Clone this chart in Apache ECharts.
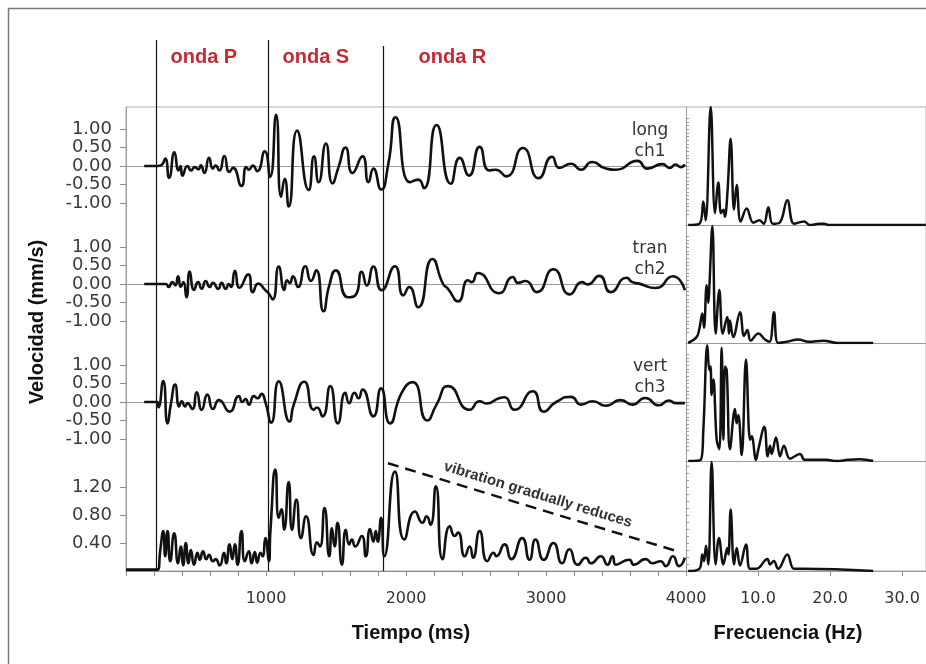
<!DOCTYPE html>
<html><head><meta charset="utf-8">
<script src="https://cdn.jsdelivr.net/npm/echarts@6/dist/echarts.min.js"></script>
<style>html,body{margin:0;padding:0;background:#fff}#c{width:926px;height:664px}</style>
</head><body><div id="c"></div>
<script>
// ---------- DATA ----------
const channelNames = [['long','ch1'],['tran','ch2'],['vert','ch3']];
const waveNames = ['onda P','onda S','onda R'];
const onsets = [214, 1014, 1836];           // ms
const timeTicks = [1000, 2000, 3000, 4000];
const freqTicks = [10, 20, 30];
const velTicks = [-1, -0.5, 0, 0.5, 1];
const magTicks = [0.4, 0.8, 1.2];
const trendLine = [[1871, 1.54], [3957, 0.27]];
const trendText = 'vibration gradually reduces';

const ch1 = [[130,0],[225,0],[255,0.03],[280,0.2],[308,-0.32],[346,0.37],[375,-0.12],[389,0],[403,-0.26],[439,0],[465,-0.12],[491,-0.03],[517,-0.09],[534,0.02],[560,-0.19],[593,0.22],[621,-0.07],[640,0.01],[667,-0.12],[702,0.27],[738,-0.16],[764,-0.05],[825,-0.54],[859,-0.03],[878,-0.1],[906,0.01],[937,-0.14],[991,0.40],[1029,-0.30],[1072,1.39],[1108,-0.83],[1134,-0.35],[1162,-1.10],[1222,0.96],[1305,-0.65],[1343,0.26],[1376,-0.44],[1428,0.61],[1475,-0.47],[1518,-0.03],[1568,0.50],[1618,-0.19],[1689,0.26],[1732,-0.44],[1767,-0.07],[1822,-0.64],[1874,0.06],[1926,1.32],[2028,-0.44],[2087,-0.37],[2128,-0.60],[2218,1.11],[2320,-0.48],[2384,0.22],[2450,-0.26],[2526,0.52],[2593,-0.12],[2640,-0.1],[2716,-0.28],[2835,0.49],[2948,-0.33],[3043,0.25],[3096,-0.05],[3179,0.06],[3250,-0.1],[3328,0.11],[3428,-0.07],[3499,-0.1],[3653,0.14],[3724,-0.07],[3831,0.05],[3883,-0.05],[3926,0.04],[3961,-0.03],[3992,0.04]];

const ch2 = [[130,0],[285,0],[304,-0.08],[332,0.05],[352,-0.04],[372,0.21],[391,-0.08],[410,0.05],[432,-0.36],[455,0.34],[486,-0.16],[515,0.05],[541,-0.13],[569,0.08],[598,-0.08],[621,0.03],[659,-0.13],[683,0.03],[712,-0.13],[735,0],[750,-0.08],[778,0.36],[811,-0.1],[873,0.26],[906,-0.22],[944,0.01],[996,-0.17],[1020,-0.26],[1048,-0.42],[1091,0.47],[1131,-0.16],[1150,0.10],[1170,0.03],[1193,0.21],[1229,-0.08],[1281,0.48],[1321,0.08],[1359,0.37],[1411,-0.74],[1452,-0.04],[1499,0.37],[1585,-0.36],[1637,-0.31],[1684,0.33],[1720,-0.04],[1767,0.47],[1826,-0.17],[1921,0.48],[1981,-0.31],[2023,-0.08],[2087,-0.63],[2189,0.68],[2265,0],[2300,-0.13],[2372,-0.47],[2443,0.10],[2470,0.05],[2514,0.30],[2664,-0.25],[2763,0.19],[2799,0.03],[2854,0.08],[2934,-0.22],[3053,0.40],[3171,-0.28],[3257,0.05],[3297,-0.01],[3380,0.22],[3463,-0.22],[3575,0.17],[3617,0.05],[3665,0.01],[3783,-0.11],[3907,0.21],[3992,-0.17]];

const ch3 = [[130,0],[225,0],[232,-0.14],[266,0.57],[297,-0.58],[320,-0.07],[351,0.47],[380,-0.12],[398,0.02],[422,-0.12],[439,-0.03],[474,-0.19],[505,0.26],[541,-0.21],[581,0.20],[621,-0.19],[664,0.05],[740,-0.26],[806,0.16],[830,0.0],[854,0.08],[878,-0.07],[913,0.16],[940,0.1],[968,0.22],[996,-0.01],[1037,-0.56],[1091,0.56],[1169,-0.53],[1198,-0.07],[1274,0.55],[1340,-0.21],[1364,-0.15],[1404,-0.39],[1459,0.43],[1513,-0.58],[1566,0.25],[1594,-0.03],[1632,0.25],[1661,0.1],[1689,0.34],[1767,-0.39],[1822,0.37],[1886,-0.58],[1969,0.25],[2047,0.54],[2152,-0.50],[2218,-0.07],[2301,0.43],[2455,-0.21],[2526,0.02],[2573,-0.04],[2669,0.11],[2704,0.13],[2775,-0.21],[2906,0.29],[2984,-0.26],[3072,0.0],[3179,0.14],[3250,-0.07],[3333,0.02],[3428,-0.1],[3534,0.05],[3617,-0.07],[3708,0.11],[3807,-0.09],[3878,0.04],[3926,-0.03],[3992,-0.03]];

const ch4 = [[0,0.02],[225,0.02],[245,0.3],[266,0.57],[280,0.21],[297,0.57],[316,0.14],[344,0.54],[372,0.11],[391,0.35],[408,0.08],[427,0.40],[446,0.11],[463,0.30],[486,0.09],[510,0.26],[527,0.16],[550,0.28],[574,0.17],[593,0.23],[621,0.14],[640,0.17],[669,0.08],[700,0.26],[716,0.11],[740,0.38],[759,0.17],[778,0.38],[797,0.09],[825,0.57],[849,0.14],[878,0.28],[897,0.11],[920,0.27],[937,0.12],[961,0.26],[975,0.21],[996,0.47],[1020,0.14],[1032,0.59],[1067,1.45],[1091,0.76],[1110,0.88],[1129,0.59],[1162,1.27],[1186,0.59],[1217,1.02],[1250,0.47],[1286,0.78],[1340,0.23],[1364,0.41],[1385,0.35],[1418,0.90],[1452,0.21],[1471,0.61],[1490,0.35],[1511,0.69],[1542,0.09],[1570,0.59],[1594,0.38],[1613,0.45],[1637,0.35],[1684,0.50],[1713,0.21],[1743,0.60],[1767,0.42],[1784,0.57],[1798,0.42],[1822,0.76],[1845,0.21],[1921,1.42],[1988,0.45],[2064,0.85],[2118,0.69],[2147,0.78],[2175,0.66],[2213,1.21],[2261,0.17],[2313,0.64],[2348,0.50],[2372,0.55],[2420,0.21],[2455,0.35],[2479,0.19],[2526,0.57],[2581,0.14],[2626,0.26],[2645,0.21],[2704,0.38],[2752,0.17],[2830,0.47],[2882,0.16],[2925,0.45],[2984,0.16],[3053,0.40],[3115,0.11],[3167,0.31],[3226,0.09],[3285,0.19],[3321,0.11],[3392,0.21],[3439,0.09],[3475,0.21],[3499,0.09],[3594,0.16],[3629,0.09],[3712,0.17],[3760,0.11],[3819,0.14],[3855,0.07],[3907,0.21],[3950,0.07],[3992,0.19]];

const sp1 = [[0.3,0],[1.85,0.01],[2.41,0.20],[2.73,0.04],[3.43,1.0],[4.03,0.10],[4.49,0.36],[4.86,0.10],[5.2,0.13],[5.4,0.07],[5.75,0.27],[6.2,0.73],[6.67,0.13],[7.04,0.34],[7.59,0.03],[8.43,0.14],[9.35,0.02],[10.2,0.04],[10.8,0.01],[11.44,0.15],[12.04,0.01],[13.0,0.02],[14.07,0.21],[15.0,0.01],[16.4,0.03],[17.2,0],[18.5,0.01],[19.2,0.01],[19.8,0],[33.3,0]];
const sp2 = [[0.3,0],[1.48,0.05],[1.85,0.12],[2.27,0.25],[2.5,0.13],[2.87,0.49],[3.1,0.34],[3.24,0.47],[3.66,0.99],[4.12,0.08],[4.63,0.45],[5.1,0.08],[5.74,0.22],[5.97,0.08],[6.1,0.19],[6.57,0.05],[7.5,0.26],[8.06,0.06],[8.52,0.11],[8.98,0.02],[10.05,0.08],[10.97,0.03],[11.6,0.01],[12.22,0.26],[12.8,0],[14,0.01],[15.6,0.03],[17,0.01],[19.1,0.02],[21,0],[26,0]];
const sp3 = [[0.3,0],[2.04,0.01],[2.41,0.27],[2.96,0.98],[3.24,0.77],[3.4,0.8],[3.56,0.56],[3.8,0.69],[4.26,0.18],[4.63,0.10],[4.95,0.96],[5.19,0.18],[5.42,0.80],[5.65,0.77],[6.11,0.10],[6.8,0.44],[7.03,0.32],[7.27,0.39],[7.73,0.05],[8.33,0.86],[8.89,0.18],[9.12,0.21],[9.72,0.01],[10.05,0.1],[10.88,0.29],[11.34,0.04],[11.67,0.13],[11.9,0.06],[12.5,0.20],[13.06,0.04],[13.6,0.13],[14.44,0.02],[15.83,0.06],[16.5,0.01],[19.5,0.01],[20.9,0.0],[22.5,0.01],[24.1,0.015],[26.0,0.0]];
const sp4 = [[0.3,0],[1.85,0.02],[2.27,0.15],[2.5,0.09],[2.78,0.23],[3.1,0.06],[3.56,0.99],[4.12,0.06],[4.58,0.30],[5.19,0.06],[5.74,0.21],[5.9,0.15],[6.2,0.56],[6.67,0.06],[7.04,0.21],[7.5,0.05],[8.33,0.24],[8.89,0.02],[9.8,0.02],[11.3,0.11],[11.67,0.06],[12.2,0.09],[12.8,0.02],[14.07,0.15],[15.0,0.02],[16.3,0.02],[26.0,0]];

// ---------- LAYOUT ----------
const waves = [ch1, ch2, ch3, ch4];
const spectra = [sp1, sp2, sp3, sp4];
const TOPS = [107, 225, 343, 461];
const HS = [118, 118, 118, 110];
const TIME_LEFT = 126, TIME_W = 560, FREQ_LEFT = 686, FREQ_W = 240;
const VMAX = 1.6, MAGMAX = 1.5714, FMAX = 33.33, TMAX = 4000;
const labelFont = 'DejaVu Sans';
const titleFont = 'Liberation Sans, Arial, sans-serif';
const axisGray = '#9a9a9a';

function range(a, b, s) { const r = []; for (let v = a; v <= b + 1e-9; v += s) r.push(+v.toFixed(4)); return r; }
const minorVel = range(-1.3, 1.3, 0.1);
const minorMag = range(0.1, 1.5, 0.1);
const timeMinor = range(0, 4000, 200);

const grid = [], xAxis = [], yAxis = [], series = [];
for (let i = 0; i < 4; i++) grid.push({ left: TIME_LEFT, top: TOPS[i], width: TIME_W, height: HS[i] });
for (let i = 0; i < 4; i++) grid.push({ left: FREQ_LEFT, top: TOPS[i], width: FREQ_W, height: HS[i] });
grid.push({ left: TIME_LEFT, top: TOPS[0], width: 802, height: TOPS[3] + HS[3] - TOPS[0], show: true,
  borderColor: '#b0b0b0', borderWidth: 1, backgroundColor: 'transparent' });

// time x axes (0-3)
for (let i = 0; i < 4; i++) {
  const last = i === 3;
  xAxis.push({ gridIndex: i, type: 'value', min: 0, max: TMAX,
    axisLine: { show: true, onZero: true, onZeroAxisIndex: i, lineStyle: { color: last ? '#8a8a8a' : axisGray, width: 1 } },
    axisTick: { show: last, customValues: timeMinor, length: 5, lineStyle: { color: '#8a8a8a' } },
    axisLabel: { show: last, customValues: timeTicks, margin: 20, fontSize: 16, color: '#333', fontFamily: labelFont,
      formatter: v => String(Math.round(v)) },
    splitLine: { show: false } });
}
// freq x axes (4-7)
for (let i = 0; i < 4; i++) {
  const last = i === 3;
  xAxis.push({ gridIndex: 4 + i, type: 'value', min: 0, max: FMAX,
    axisLine: { show: true, lineStyle: { color: axisGray, width: 1 } },
    axisTick: { show: last, customValues: freqTicks, length: 5, lineStyle: { color: '#8a8a8a' } },
    axisLabel: { show: last, customValues: freqTicks, margin: 20, fontSize: 16, color: '#333', fontFamily: labelFont,
      formatter: v => v.toFixed(1) },
    splitLine: { show: false } });
}
xAxis.push({ gridIndex: 8, type: 'value', show: false, min: 0, max: 1 });

// main y axes (0-3)
for (let i = 0; i < 4; i++) {
  const mag = i === 3;
  yAxis.push({ gridIndex: i, type: 'value', min: mag ? 0 : -VMAX, max: mag ? MAGMAX : VMAX,
    axisLine: { show: true, onZero: false, lineStyle: { color: axisGray } },
    axisTick: { show: true, customValues: mag ? magTicks : velTicks, length: 6, lineStyle: { color: '#8a8a8a' } },
    axisLabel: { show: true, customValues: mag ? magTicks : velTicks, margin: 14, fontSize: 18, color: '#3a3a3a',
      fontFamily: labelFont, hideOverlap: false, formatter: v => v.toFixed(2) },
    splitLine: { show: false } });
}
// freq y axes (4-7)
for (let i = 0; i < 4; i++) {
  yAxis.push({ gridIndex: 4 + i, type: 'value', min: 0, max: 1,
    axisLine: { show: true, onZero: false, lineStyle: { color: axisGray } },
    axisTick: { show: false }, axisLabel: { show: false }, splitLine: { show: false } });
}
yAxis.push({ gridIndex: 8, type: 'value', show: false, min: 0, max: 1 });
// minor tick y axes (9-12)
for (let i = 0; i < 4; i++) {
  const mag = i === 3;
  yAxis.push({ gridIndex: i, type: 'value', min: mag ? 0 : -VMAX, max: mag ? MAGMAX : VMAX,
    axisLine: { show: false, onZero: false },
    axisTick: { show: true, customValues: mag ? minorMag : minorVel, length: 3, lineStyle: { color: '#9a9a9a' } },
    axisLabel: { show: false }, splitLine: { show: false } });
}

waves.forEach((d, i) => {
  const s = { type: 'line', xAxisIndex: i, yAxisIndex: i, data: d, showSymbol: false, smooth: 0.6,
    lineStyle: { color: '#111', width: 2.6 }, silent: true, z: 3 };
  if (i === 3) {
    s.markLine = { silent: true, symbol: ['none', 'none'],
      lineStyle: { color: '#111', width: 2.5, type: [11, 7] },
      label: { show: true, position: 'insideMiddleTop', distance: 6, formatter: trendText,
        fontSize: 15, fontWeight: 'bold', color: '#333', fontFamily: titleFont },
      data: [[{ coord: trendLine[0] }, { coord: trendLine[1] }]] };
  }
  series.push(s);
});
spectra.forEach((d, i) => {
  series.push({ type: 'line', xAxisIndex: 4 + i, yAxisIndex: 4 + i, data: d, showSymbol: false, smooth: 0.4,
    lineStyle: { color: '#111', width: 2.5 }, silent: true, z: 3 });
});

const chart = echarts.init(document.getElementById('c'), null, { renderer: 'canvas' });
chart.setOption({ animation: false, backgroundColor: '#fff', grid, xAxis, yAxis, series });

// ---------- ANNOTATIONS ----------
const yBottom = chart.convertToPixel({ yAxisIndex: 3 }, 0);
const lineTops = [40, 40, 46];
const labelOffsets = [14, 14, 35];
const graphic = [];
graphic.push({ type: 'rect', shape: { x: 8.5, y: 8.5, width: 1000, height: 1000 },
  style: { fill: 'none', stroke: '#777', lineWidth: 1.5 }, silent: true, z: 0 });
onsets.forEach((t, k) => {
  const x = Math.round(chart.convertToPixel({ xAxisIndex: 0 }, t)) + 0.5;
  graphic.push({ type: 'line', shape: { x1: x, y1: lineTops[k], x2: x, y2: yBottom },
    style: { stroke: '#111', lineWidth: 1.2 }, silent: true, z: 10 });
  graphic.push({ type: 'text', x: x + labelOffsets[k], y: 57,
    style: { text: waveNames[k], fill: '#c62a33', font: 'bold 20px ' + titleFont, textVerticalAlign: 'middle' }, silent: true, z: 10 });
});
channelNames.forEach((nm, i) => {
  const y0 = TOPS[i];
  graphic.push({ type: 'text', x: 650, y: y0 + 24, style: { text: nm[0], fill: '#333', font: '17px ' + labelFont,
    textAlign: 'center', textVerticalAlign: 'middle' }, silent: true, z: 10 });
  graphic.push({ type: 'text', x: 650, y: y0 + 45, style: { text: nm[1], fill: '#333', font: '17px ' + labelFont,
    textAlign: 'center', textVerticalAlign: 'middle' }, silent: true, z: 10 });
});
graphic.push({ type: 'text', x: 411, y: 633, style: { text: 'Tiempo (ms)', fill: '#111', font: 'bold 20px ' + titleFont,
  textAlign: 'center', textVerticalAlign: 'middle' }, silent: true });
graphic.push({ type: 'text', x: 788, y: 633, style: { text: 'Frecuencia (Hz)', fill: '#111', font: 'bold 20px ' + titleFont,
  textAlign: 'center', textVerticalAlign: 'middle' }, silent: true });
graphic.push({ type: 'text', x: 37, y: 322, rotation: Math.PI / 2, style: { text: 'Velocidad (mm/s)', fill: '#111',
  font: 'bold 20px ' + titleFont, textAlign: 'center', textVerticalAlign: 'middle' }, silent: true });
chart.setOption({ graphic });
</script>
</body></html>
